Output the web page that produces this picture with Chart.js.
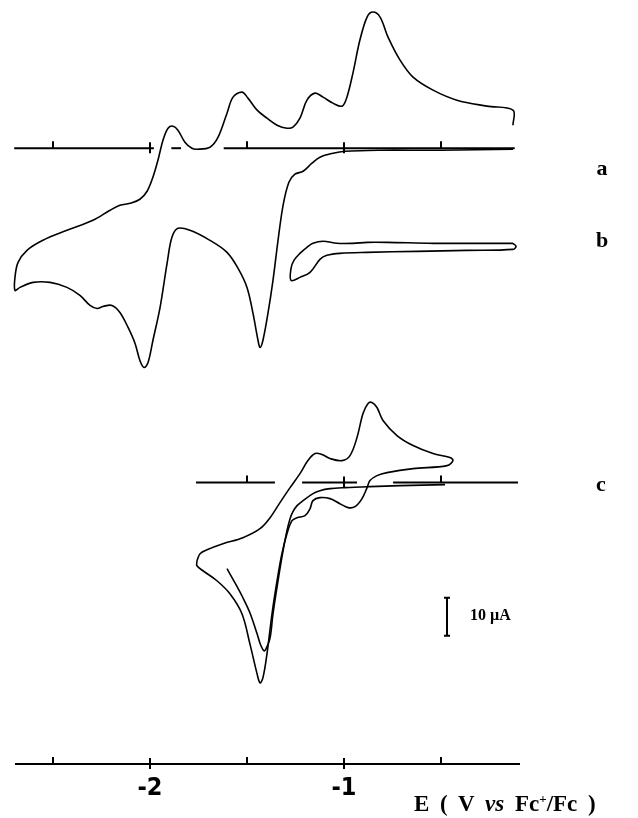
<!DOCTYPE html>
<html>
<head>
<meta charset="utf-8">
<script src="https://cdn.jsdelivr.net/npm/chart.js@4/dist/chart.umd.min.js"></script>
<style>
  html, body { margin: 0; padding: 0; background: #fff; }
  #wrap { position: relative; width: 638px; height: 818px; }
  canvas { position: absolute; left: 0; top: 0; }
  .lbl { position: absolute; font-family: "Liberation Serif", "DejaVu Serif", serif; font-weight: bold; color: #000; transform: translate(-50%, -50%); white-space: nowrap; }
  .trace { font-size: 22px; }
  .axt { font-size: 23px; word-spacing: 5px; transform: translate(0, -50%); }
  .bar { font-size: 16px; transform: translate(0, -50%); }
</style>
</head>
<body>
<div id="wrap">
  <canvas id="cv" width="638" height="818"></canvas>
  <div class="lbl trace" style="left:602px; top:168px;">a</div>
  <div class="lbl trace" style="left:602px; top:240px;">b</div>
  <div class="lbl trace" style="left:601px; top:484px;">c</div>
  <div class="lbl bar" style="left:470px; top:615px;">10 µA</div>
  <div class="lbl axt" style="left:414px; top:804px;">E ( V <i>vs</i> Fc<sup style="font-size:13px">+</sup>/Fc )</div>
</div>
<script>
// ---------- data (E in V vs Fc+/Fc, I in µA; anodic up) ----------
// Trace a: full CV (upper/anodic branch from right end, then lower/cathodic branch)
const E_A = [-0.129,-0.129,-0.263,-0.418,-0.541,-0.644,-0.711,-0.773,-0.814,-0.851,-0.881,-0.918,-0.954,-0.985,-1.010,-1.057,-1.108,-1.149,-1.191,-1.227,-1.263,-1.294,-1.345,-1.397,-1.448,-1.495,-1.526,-1.572,-1.603,-1.649,-1.691,-1.758,-1.784,-1.820,-1.856,-1.881,-1.907,-1.933,-1.959,-1.985,-2.015,-2.052,-2.103,-2.155,-2.206,-2.294,-2.428,-2.552,-2.634,-2.680,-2.696,-2.696,
  -2.670,-2.603,-2.515,-2.428,-2.361,-2.309,-2.273,-2.242,-2.196,-2.155,-2.113,-2.077,-2.052,-2.031,-2.010,-1.985,-1.948,-1.912,-1.887,-1.856,-1.794,-1.691,-1.603,-1.546,-1.500,-1.469,-1.443,-1.433,-1.418,-1.392,-1.366,-1.340,-1.314,-1.284,-1.253,-1.211,-1.165,-1.124,-1.057,-0.995,-0.814,-0.505,-0.129];
const I_A = [6.05,10.0,11.05,12.63,15.26,18.68,23.16,29.21,34.47,35.79,34.47,28.42,19.74,13.42,11.05,11.84,13.42,14.47,12.63,7.89,5.53,5.26,6.05,7.89,10.0,13.16,14.74,13.42,9.21,2.89,0.26,-0.26,0,1.58,4.74,5.79,5.26,2.11,-3.16,-7.63,-11.32,-13.42,-14.47,-15.0,-16.32,-18.95,-21.58,-24.21,-26.84,-30.0,-33.95,-37.37,
  -36.58,-35.26,-35.26,-36.58,-38.68,-41.32,-42.11,-41.58,-41.32,-43.16,-47.11,-51.32,-55.79,-57.63,-56.32,-50.53,-41.84,-30.26,-23.42,-21.05,-21.58,-24.21,-27.37,-31.58,-36.58,-43.42,-50.53,-52.37,-50.53,-43.42,-34.74,-24.21,-15.0,-8.95,-6.84,-6.05,-3.95,-2.37,-1.32,-0.79,-0.53,-0.53,-0.26];

// Trace b: small loop (-0.1 V to -1.27 V)
const E_B = [-0.129,-0.284,-0.541,-0.778,-0.881,-0.954,-1.036,-1.108,-1.160,-1.191,-1.227,-1.258,-1.273,-1.273,-1.227,-1.175,-1.124,-1.088,-1.021,-0.881,-0.624,-0.366,-0.129,-0.113,-0.129];
const I_B = [0.79,0.79,0.79,1.05,1.05,0.79,0.79,1.32,0.79,-0.26,-1.84,-3.68,-5.79,-8.95,-8.16,-6.84,-3.42,-2.37,-1.84,-1.58,-1.32,-1.05,-0.79,0,0.79];

// Trace c: outer cycle (closed) and inner scan
const E_C1 = [-1.758,-1.742,-1.706,-1.624,-1.521,-1.433,-1.381,-1.330,-1.278,-1.227,-1.186,-1.149,-1.113,-1.072,-1.010,-0.969,-0.933,-0.902,-0.876,-0.856,-0.830,-0.799,-0.727,-0.644,-0.541,-0.454,-0.438,-0.469,-0.644,-0.778,-0.830,-0.866,-0.881,-0.907,-0.943,-0.979,-1.021,-1.072,-1.124,-1.160,-1.175,-1.201,-1.242,-1.268,-1.294,-1.320,-1.345,-1.371,-1.397,-1.418,-1.433,-1.448,-1.485,-1.526,-1.588,-1.655,-1.727,-1.758,-1.758];
const I_C1 = [-20.53,-18.68,-17.63,-16.05,-14.47,-12.11,-9.21,-5.26,-1.32,2.37,5.79,7.63,7.37,6.32,5.79,7.11,11.84,18.16,20.79,21.05,19.74,16.32,12.37,9.74,7.63,6.58,5.79,4.47,3.68,2.63,1.84,0.53,-1.32,-4.21,-6.32,-6.58,-5.53,-4.21,-3.95,-4.74,-6.84,-8.68,-9.21,-10.0,-13.42,-18.68,-25.79,-34.47,-45.0,-51.32,-52.63,-50.26,-42.37,-34.47,-29.21,-25.79,-23.16,-21.84,-20.53];
const E_C2 = [-0.479,-0.711,-0.866,-0.995,-1.072,-1.124,-1.160,-1.211,-1.242,-1.263,-1.278,-1.294,-1.314,-1.340,-1.366,-1.381,-1.402,-1.412,-1.428,-1.448,-1.485,-1.521,-1.562,-1.603];
const I_C2 = [-0.53,-0.79,-1.05,-1.32,-1.58,-2.11,-2.89,-4.74,-6.05,-7.63,-9.47,-12.63,-17.89,-25.79,-34.47,-40.79,-43.68,-44.21,-42.89,-39.74,-34.21,-30.26,-26.32,-22.63];

// Zero-current lines drawn for traces a and c (E ranges of the printed segments)
const AXIS_A_SEGMENTS = [[-2.70,-1.98],[-1.89,-1.84],[-1.62,-0.12]];
const AXIS_C_SEGMENTS = [[-1.763,-1.356],[-1.216,-0.933],[-0.747,-0.103]];
const AXIS_A_TICKS = [-2.5,-2,-1.5,-1,-0.5];
const AXIS_C_TICKS = [-1.5,-1,-0.5];
const X_TICKS = [-2.5,-2,-1.5,-1,-0.5];

// Vertical offsets of each trace's zero line (µA above the bottom axis)
const OFFSET_A = 161.84;
const OFFSET_B = 136.05;
const OFFSET_C = 73.95;
const SCALE_BAR = { e: -0.469, from: 33.7, size: 10 };

// ---------- chart ----------
const X_MIN = -2.6907, X_MAX = -0.0979;
const Y_MIN = 0, Y_MAX = 763 / 3.8;

function pts(E, I, off) { return E.map((e, i) => ({ x: e, y: off + I[i] })); }
function curve(data) {
  return { data, borderColor: '#000', borderWidth: 1.6, pointRadius: 0, tension: 0.35, fill: false, clip: false };
}
function segs(list, off) {
  return list.map(s => ({ data: [{ x: s[0], y: off }, { x: s[1], y: off }], borderColor: '#000', borderWidth: 2, pointRadius: 0, tension: 0, fill: false, clip: false }));
}

const tickPlugin = {
  id: 'cvTicks',
  afterDatasetsDraw(chart) {
    const ctx = chart.ctx, xs = chart.scales.x, ys = chart.scales.y;
    ctx.save();
    ctx.strokeStyle = '#000';
    ctx.lineWidth = 2;
    const drawTicks = (ticks, off) => {
      const y = ys.getPixelForValue(off);
      ticks.forEach(t => {
        const x = Math.round(xs.getPixelForValue(t));
        const major = Math.abs(t - Math.round(t)) < 1e-6;
        ctx.beginPath();
        if (major) { ctx.moveTo(x, y - 6); ctx.lineTo(x, y + 5); }
        else { ctx.moveTo(x, y - 7); ctx.lineTo(x, y); }
        ctx.stroke();
      });
    };
    drawTicks(AXIS_A_TICKS, OFFSET_A);
    drawTicks(AXIS_C_TICKS, OFFSET_C);
    drawTicks(X_TICKS, 0);
    // 10 µA scale bar
    const bx = Math.round(xs.getPixelForValue(SCALE_BAR.e));
    const y1 = ys.getPixelForValue(SCALE_BAR.from), y2 = ys.getPixelForValue(SCALE_BAR.from + SCALE_BAR.size);
    ctx.beginPath();
    ctx.moveTo(bx, y1); ctx.lineTo(bx, y2);
    ctx.moveTo(bx - 3, y1); ctx.lineTo(bx + 3, y1);
    ctx.moveTo(bx - 3, y2); ctx.lineTo(bx + 3, y2);
    ctx.stroke();
    ctx.restore();
  }
};

new Chart(document.getElementById('cv'), {
  type: 'line',
  data: {
    datasets: [
      curve(pts(E_A, I_A, OFFSET_A)),
      curve(pts(E_B, I_B, OFFSET_B)),
      curve(pts(E_C1, I_C1, OFFSET_C)),
      curve(pts(E_C2, I_C2, OFFSET_C)),
      ...segs(AXIS_A_SEGMENTS, OFFSET_A),
      ...segs(AXIS_C_SEGMENTS, OFFSET_C)
    ]
  },
  options: {
    responsive: false,
    animation: false,
    devicePixelRatio: 1,
    layout: { padding: { left: 16, right: 119, top: 0, bottom: 6 } },
    plugins: { legend: { display: false }, tooltip: { enabled: false } },
    scales: {
      x: {
        type: 'linear', position: 'bottom', min: X_MIN, max: X_MAX,
        border: { display: true, color: '#000', width: 2 },
        grid: { display: true, drawOnChartArea: false, drawTicks: false },
        ticks: {
          stepSize: 0.5, includeBounds: false, autoSkip: false, maxRotation: 0, minRotation: 0,
          padding: 9, color: '#000',
          font: { family: '"Liberation Sans Narrow", "DejaVu Sans Condensed", sans-serif', size: 25, weight: 'bold' },
          callback: v => (Math.abs(v - Math.round(v)) < 1e-6 ? String(Math.round(v)) : '')
        }
      },
      y: { type: 'linear', display: false, min: Y_MIN, max: Y_MAX }
    }
  },
  plugins: [tickPlugin]
});
</script>
</body>
</html>
